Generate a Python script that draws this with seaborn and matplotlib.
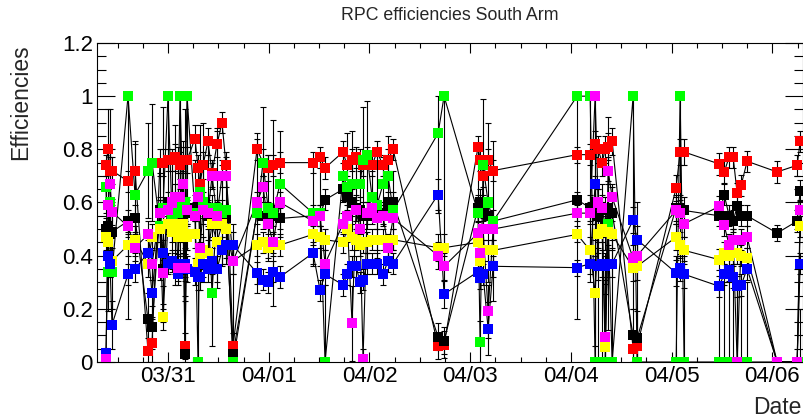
import numpy as np
import pandas as pd
import matplotlib
matplotlib.use("Agg")
import matplotlib.pyplot as plt
import matplotlib.dates as mdates
from matplotlib.ticker import MultipleLocator, FuncFormatter
import seaborn as sns

# run times, hours after 03/30 00:00
hours = [9.22, 9.70, 10.18, 10.65, 14.47, 16.14, 19.23, 20.19, 22.09, 22.81,
         24.00, 24.95, 25.67, 26.38, 26.86, 27.57, 28.05, 28.53, 30.43, 31.15,
         31.63, 32.34, 33.53, 34.49, 35.68, 36.87, 37.82, 39.49, 45.21, 46.64,
         47.83, 49.02, 50.69, 58.56, 60.23, 61.42, 65.71, 66.66, 67.85, 68.81,
         69.76, 70.47, 71.43, 72.62, 73.81, 75.24, 76.43, 77.63, 88.35, 89.78,
         97.88, 98.36, 99.07, 100.27, 101.46, 121.48, 124.58, 125.77, 126.48, 127.44,
         128.15, 128.87, 129.82, 134.82, 135.78, 145.07, 146.02, 146.98, 155.32, 156.51,
         157.70, 158.66, 159.61, 160.56, 161.99, 169.14, 173.91, 174.63]

red = [.74, .80, .72, .72, .68, .72, .04, .07, .75, .75,
       .76, .76, .77, .76, .74, .76, .06, .76, .84, .73,
       .67, .74, .83, .71, .82, .90, .74, .06, .80, .75,
       .73, .74, .75, .75, .77, .73, .79, .74, .76, .77,
       .76, .74, .77, .74, .79, .74, .76, .80, .06, .065,
       .81, .76, .70, .76, .72, .78, .78, .82, .80, .75,
       .80, .81, .83, .05, .06, .655, .79, .79, .745, .715,
       .77, .77, .635, .665, .755, .715, .74, .83]
red_err = [.04, .15, .05, .05, .04, .10, .05, .10, .05, .05,
           .04, .04, .05, .05, .05, .05, .05, .05, .05, .05,
           .05, .05, .05, .05, .05, .04, .05, .05, .04, .05,
           .05, .04, .04, .04, .04, .04, .04, .04, .04, .04,
           .04, .04, .04, .04, .04, .04, .04, .04, .05, .05,
           .04, .04, .04, .04, .04, .03, .04, .05, .05, .05,
           .05, .05, .05, .05, .05, .05, .05, .05, .04, .04,
           .04, .04, .04, .04, .04, .04, .04, .04]

black = [.50, .51, .48, .49, .53, .54, .16, .13, .57, .35,
         .60, .55, .58, .52, .60, .55, .03, .56, .58, .60,
         .62, .59, .55, .58, .56, .56, .54, .03, .56, .55,
         .56, .55, .54, .55, .55, .61, .65, .62, .60, .58,
         .57, .55, .55, .58, .57, .56, .60, .60, .095, .08,
         .58, .60, .58, .55, .53, .61, .58, .60, .55, .57,
         .52, .58, .56, .10, .09, .58, .58, .57, .55, .63,
         .55, .53, .585, .55, .55, .485, .53, .645]
black_err = [.04, .05, .10, .10, .04, .05, .10, .08, .05, .20,
             .04, .05, .05, .05, .05, .05, .20, .05, .05, .05,
             .05, .05, .05, .05, .05, .05, .05, .05, .04, .05,
             .04, .04, .04, .04, .04, .04, .04, .05, .05, .05,
             .05, .05, .05, .04, .04, .04, .04, .04, .05, .05,
             .05, .05, .05, .05, .04, .03, .05, .10, .10, .10,
             .10, .10, .10, .10, .10, .05, .05, .05, .04, .04,
             .04, .04, .04, .04, .04, .03, .04, .04]

green = [.66, .34, .60, .34, 1.0, .63, .72, .75, .51, .58,
         1.0, .55, .59, .56, 1.0, .58, .60, 1.0, .56, 0.0,
         .64, .60, .58, .26, .58, .56, .57, 0.0, .56, .75,
         .58, .56, .67, .56, .56, 0.0, .70, .66, .67, .67,
         .67, .76, .78, .62, .59, .67, .70, .57, .86, 1.0,
         .56, .075, .74, .60, .53, 1.0, 1.0, 0.0, 0.0, 0.0,
         0.0, .52, 0.0, 1.0, 0.0, 0.0, 1.0, 0.0, 0.0, 0.0,
         0.0, 0.0, 0.0, 0.0, 0.0, 0.0, 0.0, 0.0]
green_err = [.10, .15, .20, .14, .84, .20, .18, .22, .20, .38,
             .40, .20, .30, .20, .60, .25, .35, .50, .20, .38,
             .25, .30, .20, .20, .30, .20, .20, .52, .30, .21,
             .20, .35, .20, .20, .20, .29, .10, .20, .20, .10,
             .10, .20, .20, .10, .20, .10, .15, .15, .30, .60,
             .25, .08, .25, .30, .30, .84, .70, .40, .50, .60,
             .40, .40, .50, .80, .60, .40, .60, .40, .30, .30,
             .30, .50, .30, .30, .30, 0.0, 0.0, .20]

yellow = [.47, .45, .37, .38, .44, .46, .37, .47, .50, .17,
          .52, .49, .52, .47, .50, .52, .48, .47, .48, .37,
          .40, .42, .41, .52, .45, .52, .50, .38, .44, .45,
          .43, .44, .44, .48, .47, .46, .45, .50, .47, .46,
          .44, .45, .45, .46, .46, .46, .44, .46, .43, .43,
          .45, .38, .42, .42, .42, .48, .42, .26, .48, .50,
          .055, .49, .48, .355, .36, .47, .44, .42, .385, .41,
          .40, .41, .41, .40, .39, 0.0, 0.0, .51]
yellow_err = [.05, .05, .05, .05, .04, .05, .05, .05, .05, .05,
              .04, .04, .05, .05, .05, .05, .05, .05, .05, .05,
              .05, .05, .05, .05, .05, .05, .05, .05, .04, .04,
              .04, .04, .04, .04, .04, .04, .04, .05, .05, .04,
              .04, .04, .04, .04, .04, .04, .04, .04, .05, .05,
              .04, .04, .04, .04, .04, .03, .05, .20, .05, .05,
              .20, .05, .05, .05, .05, .05, .05, .05, .04, .04,
              .04, .04, .04, .04, .04, 0.0, 0.0, .04]

blue = [.034, .40, .37, .14, .33, .35, .41, .26, .56, .41,
        .37, .38, .37, .33, .36, .37, .37, .35, .34, .32,
        .32, .37, .35, .38, .35, .42, .44, .44, .335, .31,
        .30, .34, .32, .41, .27, .33, .29, .33, .36, .36,
        .30, .31, .37, .37, .37, .33, .38, .37, .63, .255,
        .34, .315, .33, .125, .36, .355, .37, .67, .36, .37,
        .36, .37, .37, .534, .46, .335, .355, .33, .285, .33,
        .345, .32, .285, .29, .35, 0.0, 0.0, .37]
blue_err = [.02, .05, .05, .09, .04, .05, .05, .10, .05, .05,
            .04, .04, .04, .04, .04, .04, .05, .05, .05, .05,
            .05, .05, .05, .05, .05, .05, .05, .05, .04, .04,
            .04, .04, .04, .04, .04, .04, .04, .04, .04, .04,
            .04, .04, .04, .04, .04, .04, .04, .04, .06, .05,
            .04, .04, .04, .10, .04, .03, .04, .15, .05, .05,
            .05, .05, .05, .05, .05, .05, .05, .05, .04, .04,
            .04, .04, .04, .04, .04, 0.0, 0.0, .04]

magenta = [.01, .59, .67, .565, .51, .43, .48, .37, .56, .335,
           .57, .60, .62, .355, .62, .67, .355, .57, .55, .62,
           .43, .57, .56, .70, .55, .70, .70, .38, .60, .66,
           .52, .45, .60, .53, .55, .37, .52, .55, .145, .57,
           .50, .01, .56, .58, .54, .55, .43, .54, .40, .36,
           .485, .41, .50, .19, .50, .56, .56, 1.0, .60, .58,
           .095, .72, .62, .39, .40, .57, .56, .52, .585, .515,
           .44, .46, 0.0, .46, .47, 0.0, 0.0, .57]
magenta_err = [.03, .06, .28, .05, .04, .05, .05, .06, .05, .05,
               .04, .04, .05, .05, .05, .05, .05, .05, .05, .05,
               .05, .05, .05, .05, .05, .04, .04, .05, .04, .04,
               .04, .04, .04, .04, .04, .05, .04, .04, .14, .04,
               .04, .04, .04, .04, .04, .04, .04, .04, .05, .05,
               .04, .04, .04, .10, .04, .03, .04, .60, .05, .05,
               .20, .05, .05, .05, .05, .05, .05, .05, .04, .04,
               .04, .04, .30, .04, .04, 0.0, 0.0, .04]

order = ["red", "black", "green", "yellow", "blue", "magenta"]
palette = {"red": "#ff0000", "black": "#000000", "green": "#00ff00",
           "yellow": "#ffff00", "blue": "#0000ff", "magenta": "#ff00ff"}
values = {"red": (red, red_err), "black": (black, black_err),
          "green": (green, green_err), "yellow": (yellow, yellow_err),
          "blue": (blue, blue_err), "magenta": (magenta, magenta_err)}

sns.set_theme(style="ticks")
plt.rcParams['font.family'] = ['Liberation Sans', 'DejaVu Sans']

t0 = pd.Timestamp("2009-03-30")
times = t0 + pd.to_timedelta(hours, unit="h")

frames = []
for name in order:
    v, e = values[name]
    frames.append(pd.DataFrame({"time": times, "eff": v, "err": e, "series": name}))
df = pd.concat(frames, ignore_index=True)

fig = plt.figure(figsize=(8.04, 4.18), dpi=100)
ax = fig.add_axes([97 / 804, 56 / 418, 706 / 804, 319 / 418])

# connecting lines, all black like ROOT default
for name in order:
    g = df[df.series == name]
    sns.lineplot(data=g, x="time", y="eff", estimator=None, sort=True,
                 color="black", lw=0.8, ax=ax, zorder=1)
    lo = np.minimum(g.err, g.eff)
    hi = np.minimum(g.err, 1.0 - g.eff)
    ax.errorbar(g.time, g.eff, yerr=[lo, hi], fmt="none", ecolor="black",
                elinewidth=0.8, capsize=2.3, capthick=0.8, zorder=2)

sns.scatterplot(data=df, x="time", y="eff", hue="series", hue_order=order,
                palette=palette, marker="s", s=52, linewidth=0, legend=False,
                ax=ax, zorder=3)

ax.set_xlim(t0 + pd.Timedelta(hours=7.08), t0 + pd.Timedelta(hours=175.3))
ax.set_ylim(0, 1.2)
ax.set_xlabel("")
ax.set_ylabel("")

ax.xaxis.set_major_locator(mdates.DayLocator())
ax.xaxis.set_minor_locator(mdates.HourLocator(byhour=[6, 12, 18]))
ax.xaxis.set_major_formatter(mdates.DateFormatter("%m/%d"))
ax.yaxis.set_major_locator(MultipleLocator(0.2))
ax.yaxis.set_minor_locator(MultipleLocator(0.05))
ax.yaxis.set_major_formatter(FuncFormatter(lambda v, p: "%g" % round(v, 2)))

ax.tick_params(which="both", direction="in", top=True, right=True,
               colors="black", width=0.8, labelsize=16)
ax.tick_params(axis="x", which="major", length=7, pad=3)
ax.tick_params(axis="x", which="minor", length=3.5)
ax.tick_params(axis="y", which="major", length=13, pad=3)
ax.tick_params(axis="y", which="minor", length=6.5)
for sp in ax.spines.values():
    sp.set_color("black")
    sp.set_linewidth(0.8)

fig.text(450 / 804, 1 - 15 / 418, "RPC efficiencies South Arm", fontsize=12.8,
         ha="center", va="center")
fig.text(21 / 804, 1 - 44 / 418, "Efficiencies", rotation=90, fontsize=16.5,
         ha="center", va="top")
fig.text(802 / 804, 1 - 407 / 418, "Date", fontsize=16.5, ha="right", va="center")

fig.savefig("out.png", dpi=100)
